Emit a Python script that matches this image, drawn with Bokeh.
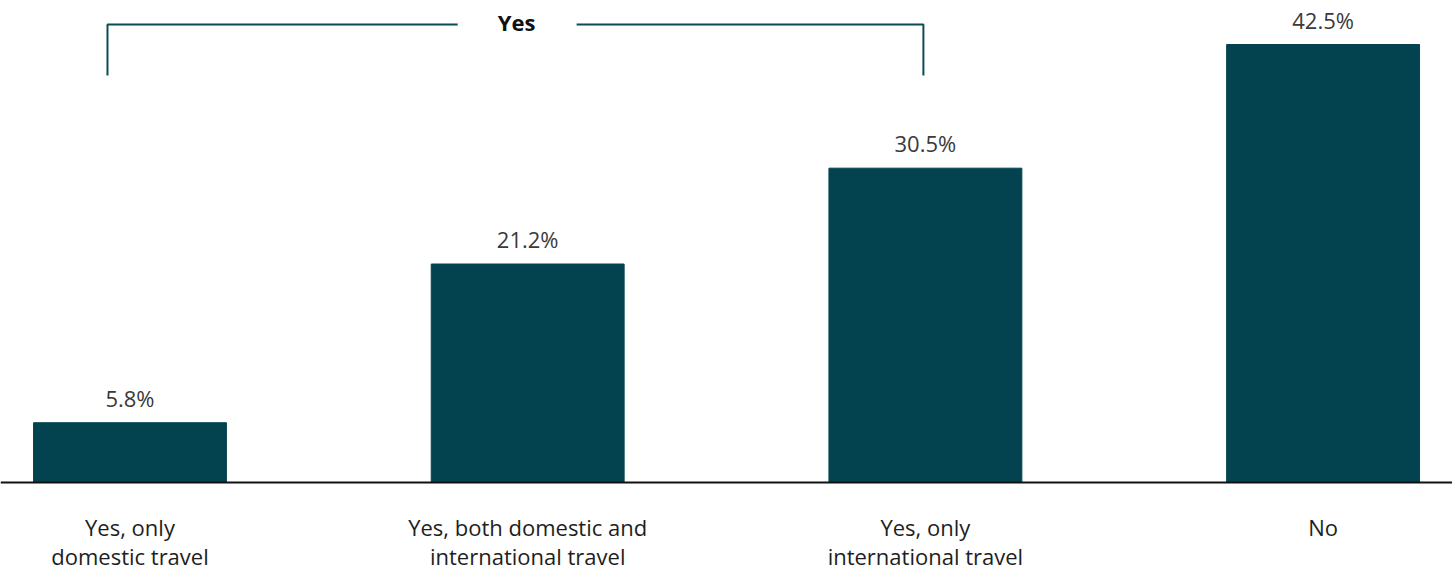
from bokeh.plotting import figure
from bokeh.models import Range1d, Span, ColumnDataSource
from bokeh.core.properties import value
from bokeh.embed import file_html
from bokeh.resources import INLINE

# ---- data ----
categories = ["Yes, only domestic travel", "Yes, both domestic and international travel",
              "Yes, only international travel", "No"]
label_line1 = ["Yes, only", "Yes, both domestic and", "Yes, only", "No"]
label_line2 = ["domestic travel", "international travel", "international travel", ""]
shares = [5.8, 21.2, 30.5, 42.5]
value_labels = ["5.8%", "21.2%", "30.5%", "42.5%"]
group_label = "Yes"

W, H = 1452, 573
BAR = "#02434F"
FONT = value("Open Sans")

xs = list(range(len(categories)))
src = ColumnDataSource(dict(x=xs, top=shares, lab=value_labels, l1=label_line1, l2=label_line2))

p = figure(width=W, height=H, output_backend="svg", toolbar_location=None,
           x_range=Range1d(-0.3256, 3.3254), y_range=Range1d(-8.83, 46.77),
           min_border=0, min_border_left=0, min_border_right=0, min_border_top=0, min_border_bottom=0)
p.axis.visible = False
p.grid.visible = False
p.outline_line_color = None
p.background_fill_color = "white"
p.border_fill_color = "white"

p.vbar(x="x", top="top", bottom=0, width=0.485, color=BAR, source=src)

p.add_layout(Span(location=0, dimension="width", line_color="#111111", line_width=2))

p.text(x="x", y="top", text="lab", source=src, text_align="center", text_baseline="middle",
       y_offset=-25, text_font=FONT, text_font_size="22px", text_color="#3a3a3a")
p.text(x="x", y=0, text="l1", source=src, text_align="center", text_baseline="middle",
       y_offset=44, text_font=FONT, text_font_size="22px", text_color="#1e1e1e")
p.text(x="x", y=0, text="l2", source=src, text_align="center", text_baseline="middle",
       y_offset=73, text_font=FONT, text_font_size="22px", text_color="#1e1e1e")

# bracket for the "Yes" group (spans first three categories)
bx0, bx1 = -0.0566, 1.995
by_top, by_bot = 44.44, 39.49
gap0, gap1 = 0.824, 1.123
BR = "#0B4B56"
p.line([bx0, bx0, gap0], [by_bot, by_top, by_top], line_color=BR, line_width=2)
p.line([gap1, bx1, bx1], [by_top, by_top, by_bot], line_color=BR, line_width=2)
p.text(x=[0.972], y=[by_top], text=[group_label], text_align="center", text_baseline="middle",
       y_offset=-3, text_font=FONT, text_font_size="22px", text_font_style="bold", text_color="#111111")

open("out.html", "w").write(file_html(p, INLINE))
